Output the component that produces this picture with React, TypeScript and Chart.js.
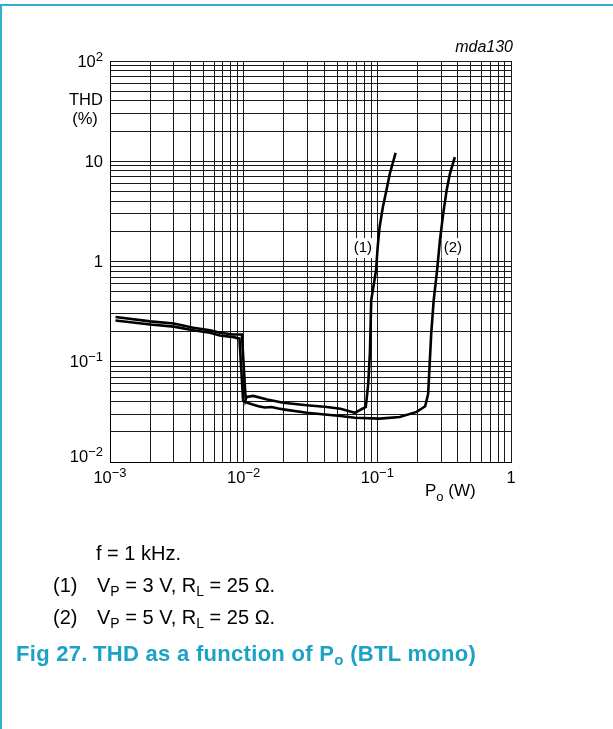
import React, { useEffect, useRef } from "react";
import { Chart, registerables } from "chart.js";

Chart.register(...registerables);

// ---- data ----
const curve1X = [1.1e-3, 2.0e-3, 3.0e-3, 4.2e-3, 5.6e-3, 6.65e-3, 8.4e-3, 9.7e-3, 1.035e-2, 1.05e-2, 1.18e-2, 1.5e-2, 1.98e-2, 2.96e-2, 4.2e-2, 5.3e-2, 6.8e-2, 8.2e-2, 8.55e-2, 8.8e-2, 0.09, 0.0978, 0.1006, 0.104, 0.11, 0.117, 0.124, 0.137];
const curve1Y = [0.28, 0.253, 0.241, 0.218, 0.206, 0.195, 0.187, 0.187, 0.042, 0.0445, 0.0456, 0.042, 0.039, 0.0368, 0.0354, 0.034, 0.031, 0.0354, 0.0606, 0.123, 0.41, 0.818, 1.4, 2.21, 3.5, 5.14, 7.5, 12.1];

const curve2X = [1.1e-3, 2.0e-3, 3.0e-3, 4.2e-3, 5.6e-3, 6.65e-3, 8.4e-3, 9.3e-3, 9.9e-3, 1.02e-2, 1.15e-2, 1.29e-2, 1.44e-2, 1.62e-2, 1.82e-2, 2.04e-2, 2.96e-2, 5.3e-2, 6.8e-2, 0.104, 0.147, 0.197, 0.228, 0.24, 0.253, 0.264, 0.28, 0.294, 0.311, 0.33, 0.349, 0.38];
const curve2Y = [0.258, 0.235, 0.224, 0.206, 0.195, 0.183, 0.176, 0.17, 0.0413, 0.0397, 0.0377, 0.036, 0.035, 0.0354, 0.0341, 0.0333, 0.031, 0.0288, 0.0276, 0.0271, 0.0281, 0.0316, 0.036, 0.048, 0.191, 0.41, 0.818, 1.62, 3.0, 5.14, 7.5, 11.0];

const gridMantissas = [1, 2, 3, 4, 5, 6, 7, 8, 9];
const xDecades = [-3, -2, -1];
const yDecades = [-2, -1, 0, 1];

const xTickValues = [1e-3, 1e-2, 1e-1, 1];
const xTickBase = ["10", "10", "10", "1"];
const xTickExp = ["\u22123", "\u22122", "\u22121", ""];

const yTickValues = [1e-2, 1e-1, 1, 10, 100];
const yTickBase = ["10", "10", "1", "10", "10"];
const yTickExp = ["\u22122", "\u22121", "", "", "2"];

const curveLabels = ["(1)", "(2)"];
const curveLabelX = [0.078, 0.367];
const curveLabelY = [1.36, 1.36];

// ---- style ----
const FONT = '"Liberation Sans", Arial, Helvetica, sans-serif';
const BORDER = "#30b0cc";
const TITLE = "#1ba2c6";
const GRID = "#1a1a1a";

const buildGrid = (decades: number[], top: number) => {
  const v: number[] = [];
  decades.forEach((d) => gridMantissas.forEach((m) => v.push(m * Math.pow(10, d))));
  v.push(top);
  return v;
};
const xGrid = buildGrid(xDecades, 1);
const yGrid = buildGrid(yDecades, 100);

function drawPow(ctx: CanvasRenderingContext2D, base: string, exp: string, x: number, y: number, align: "right" | "center") {
  const main = `16.5px ${FONT}`;
  const sup = `13px ${FONT}`;
  ctx.font = main;
  const wb = ctx.measureText(base).width;
  let we = 0;
  if (exp) {
    ctx.font = sup;
    we = ctx.measureText(exp).width;
  }
  const total = wb + we;
  const left = align === "right" ? x - total : x - total / 2;
  ctx.textAlign = "left";
  ctx.textBaseline = "middle";
  ctx.font = main;
  ctx.fillText(base, left, y);
  if (exp) {
    ctx.font = sup;
    ctx.fillText(exp, left + wb, y - 5);
  }
}

const labelPlugin = {
  id: "labels",
  afterDraw(chart: any) {
    const ctx: CanvasRenderingContext2D = chart.ctx;
    const xs = chart.scales.x;
    const ys = chart.scales.y;
    ctx.save();
    ctx.fillStyle = "#000";
    // y tick labels
    yTickValues.forEach((v, i) => {
      let py = ys.getPixelForValue(v);
      if (i === 0) py -= 6;
      drawPow(ctx, yTickBase[i], yTickExp[i], 103, py + 1, "right");
    });
    // x tick labels
    xTickValues.forEach((v, i) => {
      const px = xs.getPixelForValue(v);
      drawPow(ctx, xTickBase[i], xTickExp[i], px, 478, "center");
    });
    // y axis title
    ctx.font = `16.5px ${FONT}`;
    ctx.textAlign = "center";
    ctx.textBaseline = "middle";
    ctx.fillText("THD", 86, 100);
    ctx.fillText("(%)", 85, 119);
    // x axis title
    ctx.textAlign = "left";
    ctx.font = `17px ${FONT}`;
    let x0 = 425;
    ctx.fillText("P", x0, 491);
    x0 += ctx.measureText("P").width;
    ctx.font = `13px ${FONT}`;
    ctx.fillText("o", x0, 497);
    x0 += ctx.measureText("o").width;
    ctx.font = `17px ${FONT}`;
    ctx.fillText(" (W)", x0, 491);
    // code label
    ctx.font = `italic 16px ${FONT}`;
    ctx.textAlign = "right";
    ctx.fillText("mda130", 513, 48);
    // curve labels
    ctx.font = `15px ${FONT}`;
    ctx.textAlign = "center";
    curveLabels.forEach((t, i) => {
      const px = xs.getPixelForValue(curveLabelX[i]);
      const py = ys.getPixelForValue(curveLabelY[i]);
      const w = ctx.measureText(t).width;
      ctx.fillStyle = "#fff";
      ctx.fillRect(px - w / 2 - 2, py - 10, w + 4, 20);
      ctx.fillStyle = "#000";
      ctx.fillText(t, px, py);
    });
    ctx.restore();
  },
};

const App = () => {
  const ref = useRef<HTMLCanvasElement | null>(null);
  useEffect(() => {
    if (!ref.current) return;
    const mk = (xv: number[], yv: number[]) => xv.map((x, i) => ({ x, y: yv[i] }));
    const chart = new Chart(ref.current, {
      type: "scatter",
      data: {
        datasets: [
          { label: "(1)", data: mk(curve1X, curve1Y), showLine: true, borderColor: "#000", borderWidth: 2.6, pointRadius: 0, tension: 0, fill: false },
          { label: "(2)", data: mk(curve2X, curve2Y), showLine: true, borderColor: "#000", borderWidth: 2.6, pointRadius: 0, tension: 0, fill: false },
        ],
      },
      options: {
        animation: false,
        responsive: true,
        maintainAspectRatio: false,
        events: [],
        layout: { padding: { left: 110, top: 61, right: 102, bottom: 267 } },
        plugins: { legend: { display: false }, tooltip: { enabled: false } },
        scales: {
          x: {
            type: "logarithmic",
            min: 1e-3,
            max: 1,
            afterBuildTicks: (s: any) => { s.ticks = xGrid.map((v) => ({ value: v })); },
            ticks: { display: false },
            grid: { color: GRID, lineWidth: 1, drawTicks: false },
            border: { display: true, color: "#000", width: 1 },
          },
          y: {
            type: "logarithmic",
            min: 1e-2,
            max: 100,
            afterBuildTicks: (s: any) => { s.ticks = yGrid.map((v) => ({ value: v })); },
            ticks: { display: false },
            grid: { color: GRID, lineWidth: 1, drawTicks: false },
            border: { display: true, color: "#000", width: 1 },
          },
        },
      },
      plugins: [labelPlugin],
    } as any);
    return () => chart.destroy();
  }, []);

  const cap: React.CSSProperties = { position: "absolute", fontSize: 20, lineHeight: 1, whiteSpace: "nowrap", color: "#000" };
  const sub: React.CSSProperties = { fontSize: 14, position: "relative", top: 4 };
  const ttl: React.CSSProperties = { ...cap, fontWeight: "bold", color: TITLE, fontSize: 22, letterSpacing: 0.3, top: 643 };
  return (
    <div style={{ position: "absolute", left: 0, top: 0, width: 613, height: 729, background: "#fff", overflow: "hidden", fontFamily: FONT }}>
      <div style={{ position: "absolute", left: 0, top: 4, width: 613, height: 725, borderTop: `2px solid ${BORDER}`, borderLeft: `2px solid ${BORDER}`, boxSizing: "border-box" }} />
      <div style={{ position: "absolute", left: 0, top: 0, width: 613, height: 729 }}>
        <canvas ref={ref} />
      </div>
      <div style={{ ...cap, left: 96, top: 543 }}>f = 1 kHz.</div>
      <div style={{ ...cap, left: 53, top: 575 }}>(1)</div>
      <div style={{ ...cap, left: 97, top: 575 }}>
        V<span style={sub}>P</span> = 3 V, R<span style={sub}>L</span> = 25 Ω.
      </div>
      <div style={{ ...cap, left: 53, top: 607 }}>(2)</div>
      <div style={{ ...cap, left: 97, top: 607 }}>
        V<span style={sub}>P</span> = 5 V, R<span style={sub}>L</span> = 25 Ω.
      </div>
      <div style={{ ...ttl, left: 16 }}>Fig 27.</div>
      <div style={{ ...ttl, left: 93 }}>
        THD as a function of P<span style={{ fontSize: 15, position: "relative", top: 4 }}>o</span> (BTL mono)
      </div>
    </div>
  );
};

export default App;
